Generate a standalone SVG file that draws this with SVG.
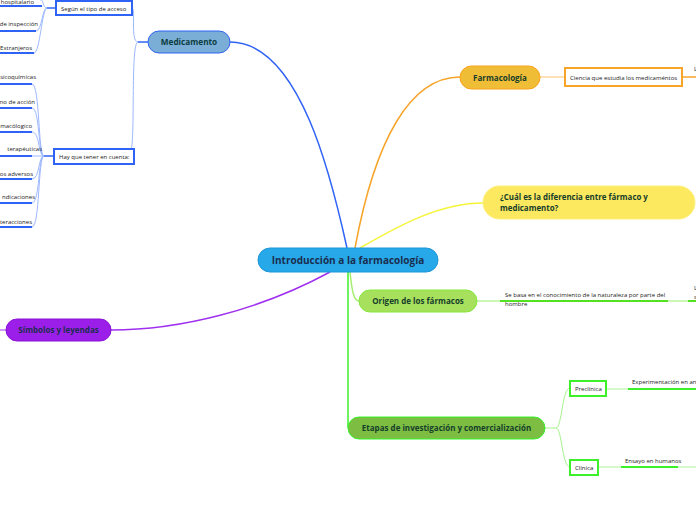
<svg xmlns="http://www.w3.org/2000/svg" width="696" height="520" viewBox="0 0 696 520">
<style>
text{font-family:"Open Sans","Noto Sans",sans-serif;}
.t{font-size:6px;fill:#222;}
.b{font-weight:bold;}
.box{fill:#fff;stroke-width:2;}
</style>
<rect width="696" height="520" fill="#fff"/>
<g id="connectors" fill="none">
  <path d="M347,248 C332,180 300,42 230,42" stroke="#2f63f5" stroke-width="1.5"/>
  <path d="M355,248 C375,140 410,77 460,77" stroke="#f7a42a" stroke-width="1.5"/>
  <path d="M360,248 C400,225 440,203 483,203" stroke="#f4f43a" stroke-width="1.5"/>
  <path d="M330,272 C260,310 180,330 111,330" stroke="#a030f0" stroke-width="1.5"/>
  <path d="M0,330 L6,330" stroke="#a030f0" stroke-width="1"/>
  <path d="M350,272 C352,292 354,301 359,301" stroke="#a6ee70" stroke-width="1.5"/>
  <path d="M348,272 L348,428" stroke="#3cf02a" stroke-width="1.5"/>
  <path d="M540,77 L565,77" stroke="#fcd4a0" stroke-width="1.5"/>
  <path d="M682,77 L696,77" stroke="#f7a42a" stroke-width="1.5"/>
  <path d="M477,301 L500,301" stroke="#b8f59a" stroke-width="1.5"/>
  <path d="M500,301 L668,301" stroke="#52e21f" stroke-width="2"/>
  <path d="M668,301 L688,301" stroke="#b8f59a" stroke-width="1.5"/>
  <path d="M688,301 L696,301" stroke="#52e21f" stroke-width="2"/>
  <path d="M545,428 L556,428 C562,428 562,388 570,388 M556,428 C562,428 562,467 570,467" stroke="#a6f28e" stroke-width="1"/>
  <path d="M606,389 L628,389" stroke="#c9f7bb" stroke-width="1.5"/>
  <path d="M628,389 L696,389" stroke="#3cf02a" stroke-width="2"/>
  <path d="M598,467 L621,467" stroke="#c9f7bb" stroke-width="1.5"/>
  <path d="M621,467 L678,467" stroke="#3cf02a" stroke-width="2"/>
  <path d="M678,467 L696,467" stroke="#c9f7bb" stroke-width="1.5"/>
  <path d="M148,42 L138,42" stroke="#2f63f5" stroke-width="1.5"/>
  <path d="M138,42 C130,42 136,8 132,8 M138,42 C130,42 136,148 130,153" stroke="#9db8ff" stroke-width="1"/>
  <path d="M56,8 L47,8" stroke="#2f63f5" stroke-width="1.5"/>
  <path d="M47,8 C42,8 44,-2 40,0 M47,8 C42,8 42,31 36,31 M47,8 C42,8 40,53 34,53" stroke="#9db8ff" stroke-width="1"/>
  <path d="M0,6 L42,6 M0,31 L36,31 M0,53 L34,53" stroke="#2f63f5" stroke-width="2"/>
  <path d="M54,156 L44,156" stroke="#2f63f5" stroke-width="1.5"/>
  <path d="M44,156 C38,156 40,84 32,84 M44,156 C38,156 40,108 32,108 M44,156 C38,156 40,132 32,132 M44,156 L32,156 M44,156 C38,156 40,179 32,179 M44,156 C38,156 40,203 32,203 M44,156 C38,156 40,227 32,227" stroke="#9db8ff" stroke-width="1"/>
  <path d="M0,84 L32,84 M0,108 L32,108 M0,132 L32,132 M0,156 L32,156 M0,179 L32,179 M0,203 L32,203 M0,227 L32,227" stroke="#2f63f5" stroke-width="2"/>
</g>
<g id="central">
  <rect x="258" y="248" width="180" height="24" rx="12" fill="#27a9e9" stroke="#1e95d8" stroke-width="1"/>
  <text x="348" y="263.5" text-anchor="middle" font-size="10" class="b" fill="#1b2d4f">Introducción a la farmacología</text>
</g>
<g id="medicamento">
  <rect x="148" y="31" width="82" height="22" rx="11" fill="#7aaed7" stroke="#2f63f5" stroke-width="1"/>
  <text x="189" y="45" text-anchor="middle" font-size="8.2" class="b" fill="#0c3d3f">Medicamento</text>
</g>
<g id="farmacologia">
  <rect x="460" y="66" width="80" height="23" rx="11.5" fill="#f0bd36" stroke="#f9a31c" stroke-width="1"/>
  <text x="500" y="80.5" text-anchor="middle" font-size="8" class="b" fill="#163d2a">Farmacología</text>
</g>
<g id="ciencia">
  <rect x="565" y="68" width="117" height="18" class="box" stroke="#f7a42a"/>
  <text x="570" y="79.5" class="t">Ciencia que estudia los medicaméntos</text>
  <text x="694" y="71" class="t">L</text>
</g>
<g id="diferencia">
  <rect x="483" y="186" width="212" height="33" rx="16.5" fill="#fde95f" stroke="#fdf07a" stroke-width="1"/>
  <text x="500" y="200" font-size="7.9" class="b" fill="#163d2a">¿Cuál es la diferencia entre fármaco y</text>
  <text x="500" y="211" font-size="7.9" class="b" fill="#163d2a">medicamento?</text>
</g>
<g id="origen">
  <rect x="359" y="290" width="118" height="22" rx="11" fill="#a6e05d" stroke="#84e83a" stroke-width="1"/>
  <text x="418" y="304" text-anchor="middle" font-size="8" class="b" fill="#163d2a">Origen de los fármacos</text>
</g>
<g id="sebasa">
  <text x="505" y="297" class="t">Se basa en el conocimiento de la naturaleza por parte del</text>
  <text x="505" y="306" class="t">hombre</text>
  <text x="694" y="290" class="t">L</text>
  <text x="694" y="299" class="t">s</text>
</g>
<g id="etapas">
  <rect x="348" y="417" width="197" height="22" rx="11" fill="#7cbd42" stroke="#39f22c" stroke-width="1"/>
  <text x="446.5" y="431" text-anchor="middle" font-size="8" class="b" fill="#163d2a">Etapas de investigación y comercialización</text>
</g>
<g id="preclinica">
  <rect x="570" y="381" width="36" height="15" class="box" stroke="#3cf02a"/>
  <text x="575" y="391" class="t">Preclínica</text>
</g>
<g id="experimentacion">
  <text x="632" y="384" class="t">Experimentación en an</text>
</g>
<g id="clinica">
  <rect x="570" y="460" width="28" height="15" class="box" stroke="#3cf02a"/>
  <text x="575" y="470" class="t">Clínica</text>
</g>
<g id="ensayo">
  <text x="625" y="463" class="t">Ensayo en humanos</text>
</g>
<g id="simbolos">
  <rect x="6" y="319" width="105" height="22" rx="11" fill="#9b1fe8" stroke="#8a12d6" stroke-width="1"/>
  <text x="58.5" y="333" text-anchor="middle" font-size="8" class="b" fill="#1b2d4f">Símbolos y leyendas</text>
</g>
<g id="segun">
  <rect x="56" y="1" width="76" height="14" class="box" stroke="#2f63f5"/>
  <text x="61" y="10.5" class="t">Según el tipo de acceso</text>
</g>
<g id="segun-children">
  <text x="34" y="3.5" text-anchor="end" class="t">hospitalario</text>
  <text x="38" y="26" text-anchor="end" class="t">de inspección</text>
  <text x="32" y="50" text-anchor="end" class="t">Extranjeros</text>
</g>
<g id="hay">
  <rect x="54" y="149" width="80" height="15" class="box" stroke="#2f63f5"/>
  <text x="59" y="159" class="t">Hay que tener en cuenta:</text>
</g>
<g id="hay-children">
  <text x="36" y="79" text-anchor="end" class="t">sicoquímicas</text>
  <text x="35" y="104" text-anchor="end" class="t">mo de acción</text>
  <text x="32" y="128" text-anchor="end" class="t">macólogico</text>
  <text x="42" y="151" text-anchor="end" class="t">terapéuticas</text>
  <text x="33" y="176" text-anchor="end" class="t">os adversos</text>
  <text x="35" y="199" text-anchor="end" class="t">ndicaciones</text>
  <text x="32" y="224" text-anchor="end" class="t">teracciones</text>
</g>
</svg>
